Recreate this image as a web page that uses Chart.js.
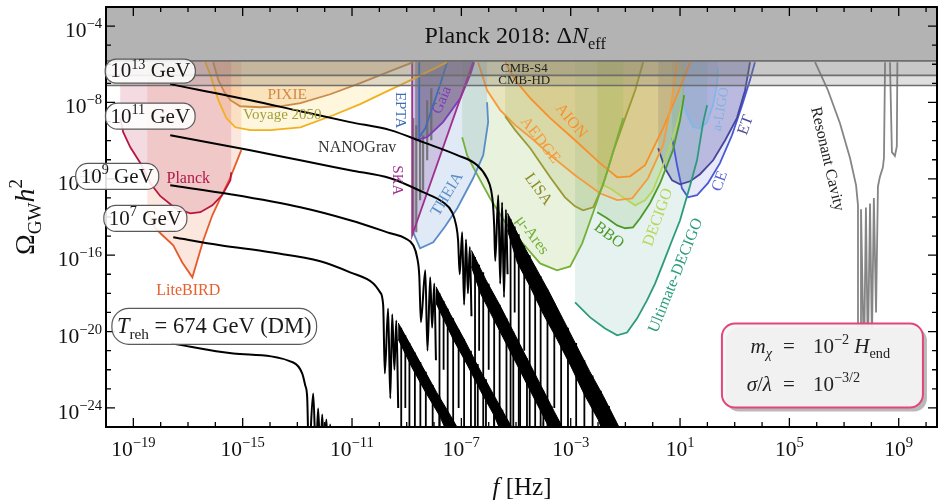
<!DOCTYPE html>
<html>
<head>
<meta charset="utf-8">
<title>Gravitational wave spectrum</title>
<script src="https://cdn.jsdelivr.net/npm/chart.js"></script>
<style>
  body { margin: 0; background: #fff; }
  #wrap { width: 942px; height: 502px; }
</style>
</head>
<body>
<div id="wrap"><canvas id="gw" width="942" height="502"></canvas></div>
<script>
// everything is in log10 units: x = log10(f/Hz), y = log10(Omega_GW h^2)
const xRange = [-20, 10.4];
const yRange = [-25, -3];
const xTickLabels = [-19, -15, -11, -7, -3, 1, 5, 9];
const yTickLabels = [-24, -20, -16, -12, -8, -4];

// cosmological bounds (horizontal lines)
const neffLevel = -5.82;
const cmbS4Level = -6.58;
const cmbHDLevel = -7.11;

// spectra for the different reheating temperatures
const t13 = [[-17.65,-7.04],[-14.72,-7.88],[-12.89,-8.46],[-11.07,-9.03],[-9.60,-9.45],[-8.40,-10.08],[-7.15,-10.76],[-6.42,-11.29],[-6.06,-11.97],[-5.91,-12.60],[-5.84,-13.39],[-5.80,-14.44],[-5.76,-16.3],
  [-5.65,-12.86],[-5.58,-17.5],[-5.51,-13.24],[-5.44,-18.2],[-5.37,-13.62],[-5.31,-17.0]];
const t11 = [[-17.65,-9.72],[-14.72,-10.50],[-12.89,-11.03],[-11.07,-11.55],[-9.60,-11.97],[-8.40,-12.70],[-7.67,-13.23],[-7.34,-13.75],[-7.19,-14.44],[-7.12,-15.22],[-7.06,-17.0],
  [-6.97,-14.80],[-6.90,-18.6],[-6.83,-15.18],[-6.76,-18.0],[-6.69,-15.57],[-6.63,-19.2]];
const t9 = [[-17.65,-12.34],[-15.45,-12.81],[-12.89,-13.49],[-11.07,-14.17],[-9.60,-14.85],[-9.05,-15.12],[-8.76,-15.48],[-8.62,-16.11],[-8.54,-17.06],[-8.48,-19.5],
  [-8.32,-16.79],[-8.24,-21.0],[-8.14,-17.16],[-8.07,-19.8],[-7.99,-17.48],[-7.93,-21.5]];
const t7 = [[-17.54,-15.06],[-15.82,-15.48],[-13.99,-15.85],[-12.16,-16.32],[-11.07,-16.90],[-10.22,-17.48],[-9.97,-17.95],[-9.86,-18.63],[-9.80,-22.2],
  [-9.68,-18.79],[-9.60,-23.5],[-9.53,-19.10],[-9.45,-22.0],[-9.38,-19.42],[-9.31,-24.0]];
const tDM = [[-17.61,-20.62],[-15.34,-21.15],[-13.15,-21.62],[-12.82,-22.20],[-12.71,-22.83],[-12.64,-23.45],[-12.58,-26.5],
  [-12.42,-23.24],[-12.32,-26.5],[-12.24,-24.03],[-12.16,-26.5],[-12.09,-24.35],[-12.02,-26.5],[-11.94,-24.61],[-11.87,-26.5],[-11.80,-24.87],[-11.74,-26.5]];

// dense oscillation bands (upper edge then lower edge)
const band13 = [[-5.31,-13.8],[-4.8,-15.3],[-4.3,-16.6],[-3.8,-17.9],[-3.3,-19.3],[-2.8,-20.7],[-2.3,-22.1],[-1.8,-23.4],[-1.2,-25.1],
  [-1.45,-26.5],[-2.0,-24.6],[-2.5,-23.3],[-3.0,-21.8],[-3.5,-20.4],[-4.0,-19.1],[-4.5,-17.6],[-4.95,-16.4],[-5.31,-14.7]];
const band11 = [[-6.63,-15.75],[-6.1,-17.3],[-5.6,-18.6],[-5.1,-20.0],[-4.6,-21.4],[-4.1,-22.8],[-3.6,-24.2],[-2.9,-26.1],
  [-3.2,-26.6],[-3.8,-25.0],[-4.3,-23.6],[-4.8,-22.2],[-5.3,-20.8],[-5.8,-19.4],[-6.3,-18.0],[-6.63,-16.6]];
const band9 = [[-7.93,-17.65],[-7.4,-19.1],[-6.9,-20.4],[-6.4,-21.8],[-5.9,-23.1],[-5.4,-24.4],[-5.0,-25.4],
  [-5.3,-26.1],[-5.8,-24.4],[-6.3,-23.1],[-6.8,-21.7],[-7.3,-20.4],[-7.93,-18.5]];
const band7 = [[-9.31,-19.55],[-8.9,-20.6],[-8.4,-21.9],[-7.9,-23.2],[-7.4,-24.4],[-7.0,-25.4],
  [-7.3,-26.0],[-7.8,-24.4],[-8.3,-23.2],[-8.8,-21.9],[-9.31,-20.4]];

// deep minima of the oscillations: [x, top, bottom]
const drops13 = [[-5.2,-14.1,-30],[-5.05,-14.5,-19],[-4.9,-14.9,-30],[-4.7,-15.5,-21],[-4.5,-16.0,-30],[-4.3,-16.6,-23],[-4.1,-17.1,-30],[-3.85,-17.8,-30],[-3.6,-18.5,-24],[-3.35,-19.2,-30],[-3.1,-19.8,-30],[-2.8,-20.6,-30],[-2.5,-21.5,-30],[-2.2,-22.3,-30],[-1.9,-23.1,-30],[-1.6,-23.9,-30]];
const drops11 = [[-6.5,-16.1,-30],[-6.35,-16.5,-21],[-6.2,-16.9,-30],[-6.0,-17.5,-22],[-5.8,-18.1,-30],[-5.6,-18.6,-30],[-5.35,-19.3,-30],[-5.1,-20.0,-30],[-4.85,-20.7,-30],[-4.6,-21.4,-30],[-4.3,-22.3,-30],[-4.0,-23.1,-30],[-3.7,-23.9,-30]];
const drops9 = [[-7.8,-18.0,-30],[-7.65,-18.4,-22],[-7.5,-18.8,-30],[-7.3,-19.3,-30],[-7.1,-19.9,-24],[-6.9,-20.4,-30],[-6.65,-21.0,-30],[-6.4,-21.7,-30],[-6.1,-22.5,-30],[-5.8,-23.3,-30],[-5.5,-24.1,-30]];
const drops7 = [[-9.2,-19.8,-30],[-9.05,-20.2,-24],[-8.9,-20.6,-30],[-8.7,-21.1,-30],[-8.5,-21.6,-30],[-8.3,-22.1,-30],[-8.05,-22.8,-30],[-7.8,-23.4,-30],[-7.5,-24.2,-30]];

// experimental sensitivity curves
const planckCMB = [[-19.48,-8.82],[-19.37,-9.56],[-19.11,-10.35],[-18.74,-11.18],[-18.38,-12.23],[-18.01,-12.91],[-17.46,-13.54],[-16.92,-13.81],[-16.55,-13.75],[-16.11,-13.39],[-15.75,-12.86],[-15.45,-12.08],[-15.42,-11.66]];
const liteBIRD = [[-18.49,-13.65],[-18.20,-14.59],[-18.01,-14.85],[-17.54,-15.48],[-17.21,-16.38],[-16.84,-17.16],[-16.44,-15.22],[-16.11,-13.91],[-15.82,-13.02],[-15.45,-11.92],[-15.20,-11.03],[-15.05,-10.50]];
const pixie = [[-16.08,-5.89],[-15.89,-6.83],[-15.67,-7.46],[-15.45,-7.88],[-15.09,-8.20],[-14.36,-8.25],[-13.63,-8.20],[-12.89,-8.04],[-11.80,-7.57],[-10.70,-6.99],[-9.60,-6.36],[-8.76,-5.89]];
const voyage = [[-16.37,-5.89],[-16.18,-6.57],[-15.89,-7.88],[-15.60,-8.82],[-15.27,-9.30],[-14.72,-9.45],[-13.99,-9.45],[-12.89,-9.30],[-11.69,-8.67],[-10.70,-8.09],[-9.86,-7.51],[-8.62,-6.67],[-7.52,-5.89]];
const epta = [[-8.54,-5.89],[-8.54,-9.82],[-8.32,-9.35],[-8.03,-8.14],[-7.78,-7.09],[-7.52,-5.89]];
const ska = [[-8.80,-5.89],[-8.80,-14.96],[-6.57,-5.89]];
const gaia = [[-8.69,-9.98],[-8.25,-9.82],[-7.67,-9.03],[-7.04,-7.78],[-6.68,-6.57],[-6.53,-5.89]];
const theia = [[-8.76,-14.80],[-8.51,-15.64],[-8.03,-15.33],[-7.59,-14.49],[-7.15,-13.54],[-6.57,-11.97],[-6.20,-10.76],[-6.02,-9.03],[-6.06,-7.99]];
const muAres = [[-6.97,-9.82],[-6.79,-10.76],[-6.57,-11.39],[-5.95,-13.02],[-5.40,-14.28],[-4.85,-15.22],[-4.12,-16.43],[-3.50,-16.79],[-3.02,-16.59],[-2.58,-15.38],[-2.11,-13.49],[-1.67,-11.66],[-1.38,-10.24],[-1.08,-8.82]];
const lisa = [[-5.40,-8.72],[-5.03,-9.45],[-4.48,-10.40],[-3.75,-11.92],[-3.21,-12.97],[-2.84,-13.44],[-2.55,-13.65],[-2.18,-13.49],[-1.82,-12.34],[-1.45,-10.61],[-1.01,-8.82],[-0.64,-7.36],[-0.35,-5.89]];
const aedge = [[-6.39,-5.89],[-6.06,-7.36],[-5.58,-8.40],[-5.03,-9.19],[-4.48,-9.82],[-3.75,-10.76],[-2.84,-11.81],[-1.93,-12.76],[-1.30,-13.12],[-0.75,-13.02],[-0.17,-11.97],[0.38,-10.24],[0.67,-8.14],[0.89,-5.89]];
const aion = [[-5.40,-5.89],[-5.03,-6.83],[-4.48,-7.78],[-3.75,-8.82],[-2.84,-9.98],[-1.93,-11.18],[-1.30,-11.92],[-0.83,-11.87],[-0.28,-11.29],[0.38,-9.35],[0.89,-7.62],[1.37,-5.89]];
const bbo = [[-2.03,-13.75],[-1.67,-14.07],[-1.30,-14.44],[-1.01,-14.59],[-0.72,-14.54],[-0.46,-14.07],[-0.10,-13.28],[0.27,-12.23],[0.74,-10.50],[1.00,-8.93],[1.15,-7.62]];
const decigo = [[-2.03,-12.18],[-1.56,-12.50],[-1.19,-12.86],[-0.64,-13.39],[-0.28,-13.12],[0.01,-12.60],[0.38,-11.29],[0.71,-9.98],[1.00,-8.56],[1.15,-7.62]];
const uDecigo = [[-2.84,-18.47],[-2.29,-19.26],[-1.74,-19.84],[-1.30,-20.20],[-0.94,-20.05],[-0.57,-19.31],[-0.21,-18.37],[0.09,-17.48],[0.38,-16.43],[0.71,-15.22],[1.00,-14.17],[1.37,-12.34],[1.62,-11.03],[1.84,-9.09],[1.99,-8.14]];
const et = [[0.20,-10.40],[0.45,-11.45],[0.71,-12.08],[1.00,-12.29],[1.37,-12.13],[1.73,-11.76],[2.21,-11.03],[2.65,-9.98],[3.08,-8.82],[3.38,-7.36],[3.56,-5.89]];
const ce = [[0.71,-9.87],[0.89,-11.29],[1.07,-12.50],[1.29,-12.97],[1.62,-12.86],[2.02,-12.23],[2.46,-11.18],[2.90,-9.72],[3.27,-8.14],[3.56,-6.83],[3.74,-5.89]];
const aLigo = [[1.07,-7.88],[1.26,-8.67],[1.48,-9.30],[1.73,-9.35],[1.99,-9.03],[2.21,-8.14],[2.35,-7.09],[2.39,-6.20]];
const cavity = [[5.94,-5.89],[6.41,-7.36],[6.85,-9.09],[7.22,-10.92],[7.44,-12.34],[7.51,-13.39],[7.51,-21.9],[7.62,-21.9],[7.62,-13.6],[7.73,-21.7],[7.80,-13.5],[7.87,-21.4],[7.95,-13.3],[8.02,-20.5],[8.09,-13.0],[8.17,-19.0],[8.24,-12.4],[8.31,-11.9],[8.42,-11.4],[8.46,-10.9],[8.50,-5.89],
  null,[8.68,-5.89],[8.75,-10.6],[8.86,-10.8],[8.93,-10.3],[8.95,-5.89]];
// NANOGrav posterior bars: [x, top, bottom]
const nanograv = [[-8.76,-8.82,-14.96],[-8.65,-9.19,-14.80],[-8.51,-9.98,-13.12],[-8.40,-9.72,-12.60],[-8.25,-7.88,-11.03],[-8.10,-7.25,-9.98]];

const SERIF = '"Liberation Serif", "Times New Roman", serif';
const TOP = yRange[1];

const pts = arr => arr.map(p => p ? {x: p[0], y: p[1]} : {x: null, y: null});
const bars = arr => arr.flatMap(([x, a, b]) => [{x, y: a}, {x, y: b}, {x: null, y: null}]);

const datasets = [];
function addLine(data, colour, width, order, extra) {
  datasets.push(Object.assign({data, borderColor: colour, borderWidth: width, fill: false, order,
    pointRadius: 0, tension: 0}, extra || {}));
}
function addShape(data, colour, order, border) {
  datasets.push({data, backgroundColor: colour, borderColor: border || 'rgba(0,0,0,0)',
    borderWidth: border ? 1 : 0, fill: 'shape', order, pointRadius: 0, tension: 0});
}
function addRegion(curve, line, fillCol) {
  const last = curve[curve.length - 1];
  addShape(pts([[curve[0][0], TOP], ...curve, [last[0], TOP]]), fillCol, 90);
  addLine(pts(curve), line, 1.8, 60);
}

// black spectra on top
[t13, t11, t9, t7, tDM].forEach(c => addLine(pts(c), '#000', 2, 5, {cubicInterpolationMode: 'monotone'}));
[band13, band11, band9, band7].forEach(b => addShape(pts(b), '#000', 6, '#000'));
[drops13, drops11, drops9, drops7].forEach(d => addLine(bars(d), '#000', 1.8, 6));

// Planck Delta N_eff (opaque) and CMB-S4 / CMB-HD projections
addLine(pts([[xRange[0] - 1, neffLevel], [xRange[1] + 1, neffLevel]]), '#6e6e6e', 1.6, 20, {fill: 'end', backgroundColor: '#b3b3b3'});
addLine(pts([[xRange[0] - 1, cmbS4Level], [xRange[1] + 1, cmbS4Level]]), '#6e6e6e', 1.6, 30, {fill: 'end', backgroundColor: 'rgba(120,120,120,0.22)'});
addLine(pts([[xRange[0] - 1, cmbHDLevel], [xRange[1] + 1, cmbHDLevel]]), '#6e6e6e', 1.6, 30, {fill: 'end', backgroundColor: 'rgba(120,120,120,0.24)'});

addLine(pts(cavity), '#858585', 1.8, 60);
addLine(bars(nanograv), 'rgba(105,105,105,0.85)', 2.2, 70);

addRegion(planckCMB, '#b8163f', 'rgba(205,90,120,0.22)');
addRegion(liteBIRD, '#e85a2a', 'rgba(240,120,80,0.18)');
addRegion(voyage, '#f2b01e', 'rgba(250,215,100,0.22)');
addRegion(pixie, '#c98a4a', 'rgba(235,160,80,0.26)');
addRegion(ska, '#a0308f', 'rgba(150,100,180,0.28)');
addRegion(epta, '#3e6db5', 'rgba(60,100,170,0.08)');
addRegion(gaia, '#7d3cb8', 'rgba(50,45,60,0.45)');
addRegion(theia, '#5a8dc8', 'rgba(100,150,210,0.2)');
addRegion(muAres, '#74b13b', 'rgba(140,190,80,0.2)');
addRegion(lisa, '#9a9a33', 'rgba(160,160,60,0.18)');
addRegion(aedge, '#f59b3d', 'rgba(250,170,70,0.2)');
addRegion(aion, '#f8902a', 'rgba(250,160,60,0.2)');
addRegion(bbo, '#4c9a2a', 'rgba(90,160,60,0.14)');
addRegion(decigo, '#b6d65a', 'rgba(180,215,90,0.18)');
addRegion(uDecigo, '#2b9b7c', 'rgba(80,170,150,0.15)');
addRegion(et, '#45459c', 'rgba(80,80,170,0.3)');
addRegion(ce, '#4858d6', 'rgba(90,100,210,0.14)');
addRegion(aLigo, '#80b8e8', 'rgba(120,170,230,0.15)');

// plain labels: text, x, y, angle (deg), colour, size
const notes = [
  ['PIXIE', -13.37, -7.62, 0, '#d08a45', 15.5],
  ['Voyage 2050', -13.55, -8.67, 0, '#a3a03a', 15],
  ['NANOGrav', -10.81, -10.35, 0, '#333', 16],
  ['Planck', -16.99, -12.02, 0, '#b0174a', 16],
  ['LiteBIRD', -16.99, -17.84, 0, '#e8602c', 16],
  ['EPTA', -9.24, -8.40, 90, '#3e6db5', 15],
  ['SKA', -9.35, -12.08, 90, '#a0308f', 15],
  ['Gaia', -7.70, -7.88, -68, '#7d3cb8', 15],
  ['THEIA', -7.52, -12.81, -59, '#5a8dc8', 16],
  ['\u03bc-Ares', -4.41, -14.96, 53, '#74b13b', 16],
  ['LISA', -4.19, -12.55, 54, '#8c8c2a', 16],
  ['AEDGE', -4.12, -9.98, 52, '#f59b3d', 16],
  ['AION', -2.99, -8.98, 50, '#f8902a', 16],
  ['BBO', -1.60, -14.96, 37, '#4c9a2a', 16],
  ['DECIGO', 0.20, -14.02, -70, '#b6d65a', 16],
  ['Ultimate-DECIGO', 0.85, -17.06, -68, '#2b9b7c', 16],
  ['CE', 2.46, -12.13, -70, '#5a63d4', 16],
  ['ET', 3.41, -9.19, -70, '#4a4a9e', 16],
  ['a-LIGO', 2.50, -8.35, -80, '#80b2e0', 14],
  ['Resonant Cavity', 6.38, -10.97, 77, '#222', 16],
  ['CMB-S4', -4.70, -6.20, 0, '#222', 13],
  ['CMB-HD', -4.70, -6.86, 0, '#222', 13]
];

// rich text helpers: parts are {t, i (italic), v (1 sup, -1 sub)}
const N = t => ({t}), I = t => ({t, i: true}), SUP = t => ({t, v: 1}), SUB = t => ({t, v: -1}), SUBI = t => ({t, v: -1, i: true});
function font(size, italic) { return (italic ? 'italic ' : '') + size + 'px ' + SERIF; }
function rich(ctx, parts, size, x, y, align, colour) {
  let w = 0;
  const items = parts.map(p => {
    const s = p.v ? size * 0.68 : size;
    ctx.font = font(s, p.i);
    const it = {t: p.t, f: ctx.font, x: w, dy: p.v === 1 ? -size * 0.42 : p.v === -1 ? size * 0.24 : 0};
    w += ctx.measureText(p.t).width;
    return it;
  });
  const x0 = align === 'center' ? x - w / 2 : align === 'right' ? x - w : x;
  ctx.fillStyle = colour;
  ctx.textAlign = 'left';
  ctx.textBaseline = 'alphabetic';
  items.forEach(it => { ctx.font = it.f; ctx.fillText(it.t, x0 + it.x, y + it.dy); });
  return w;
}
function richWidth(ctx, parts, size) {
  return parts.reduce((w, p) => { ctx.font = font(p.v ? size * 0.68 : size, p.i); return w + ctx.measureText(p.t).width; }, 0);
}
function roundBox(ctx, x, y, w, h, r) {
  ctx.beginPath();
  ctx.moveTo(x + r, y);
  ctx.lineTo(x + w - r, y); ctx.arcTo(x + w, y, x + w, y + r, r);
  ctx.lineTo(x + w, y + h - r); ctx.arcTo(x + w, y + h, x + w - r, y + h, r);
  ctx.lineTo(x + r, y + h); ctx.arcTo(x, y + h, x, y + h - r, r);
  ctx.lineTo(x, y + r); ctx.arcTo(x, y, x + r, y, r);
  ctx.closePath();
}

// temperature tags: parts, x, y, size, height
const tags = [
  [[N('10'), SUP('13'), N(' GeV')], -18.38, -6.36, 21, 24],
  [[N('10'), SUP('11'), N(' GeV')], -18.38, -8.72, 21, 26],
  [[N('10'), SUP('9'), N(' GeV')], -19.59, -11.87, 21, 26],
  [[N('10'), SUP('7'), N(' GeV')], -18.56, -14.07, 21, 26],
  [[I('T'), SUB('reh'), N(' = 674 GeV (DM)')], -16.04, -19.73, 22.5, 36]
];
const paramPos = [6.19, -21.78];
const neffLabelPos = [-5.03, -4.47];

const decor = {
  id: 'decor',
  beforeDraw(chart) {
    const ctx = chart.ctx;
    ctx.save(); ctx.fillStyle = '#fff'; ctx.fillRect(0, 0, chart.width, chart.height); ctx.restore();
  },
  afterDatasetsDraw(chart) {
    const ctx = chart.ctx, xs = chart.scales.x, ys = chart.scales.y, a = chart.chartArea;
    const px = v => xs.getPixelForValue(v), py = v => ys.getPixelForValue(v);
    ctx.save();

    notes.forEach(([t, lx, ly, ang, col, size]) => {
      ctx.save();
      ctx.translate(px(lx), py(ly));
      ctx.rotate(ang * Math.PI / 180);
      ctx.font = font(size);
      ctx.fillStyle = col;
      ctx.textAlign = 'center';
      ctx.textBaseline = 'middle';
      ctx.fillText(t, 0, 0);
      ctx.restore();
    });

    rich(ctx, [N('Planck 2018: \u0394'), I('N'), SUB('eff')], 24, px(neffLabelPos[0]), py(neffLabelPos[1]) + 8, 'center', '#111');

    // frame and inward ticks
    ctx.strokeStyle = '#000';
    ctx.lineWidth = 1.3;
    ctx.beginPath();
    for (let v = Math.ceil(xRange[0]); v <= xRange[1]; v++) {
      const x = px(v), len = xTickLabels.includes(v) ? 9 : 5;
      ctx.moveTo(x, a.bottom); ctx.lineTo(x, a.bottom - len);
      ctx.moveTo(x, a.top); ctx.lineTo(x, a.top + len);
    }
    for (let v = yRange[0]; v <= yRange[1]; v++) {
      const y = py(v), len = yTickLabels.includes(v) ? 9 : 5;
      ctx.moveTo(a.left, y); ctx.lineTo(a.left + len, y);
      ctx.moveTo(a.right, y); ctx.lineTo(a.right - len, y);
    }
    ctx.stroke();
    ctx.lineWidth = 2;
    ctx.strokeRect(a.left, a.top, a.right - a.left, a.bottom - a.top);

    xTickLabels.forEach(v => rich(ctx, [N('10'), SUP((v < 0 ? '\u2212' : '') + Math.abs(v))], 21.5, px(v), a.bottom + 29, 'center', '#111'));
    yTickLabels.forEach(v => rich(ctx, [N('10'), SUP('\u2212' + Math.abs(v))], 21.5, a.left - 4, py(v) + 11, 'right', '#111'));

    // axis titles
    rich(ctx, [I('f'), N(' [Hz]')], 25, 522, 495, 'center', '#111');
    ctx.save();
    ctx.translate(34, 217);
    ctx.rotate(-Math.PI / 2);
    rich(ctx, [N('\u03a9'), SUB('GW'), I('h'), SUP('2')], 28, 0, 0, 'center', '#111');
    ctx.restore();

    // temperature tags
    tags.forEach(([parts, lx, ly, size, h]) => {
      const w = richWidth(ctx, parts, size) + 10;
      const cx = px(lx), cy = py(ly);
      roundBox(ctx, cx - w / 2, cy - h / 2, w, h, h / 2 - 1);
      ctx.fillStyle = 'rgba(255,255,255,0.88)';
      ctx.fill();
      ctx.lineWidth = 1.2;
      ctx.strokeStyle = '#5a5a5a';
      ctx.stroke();
      rich(ctx, parts, size, cx, cy + size * 0.3, 'center', '#1a1a1a');
    });

    // parameter box
    const bx = px(paramPos[0]), by = py(paramPos[1]);
    roundBox(ctx, bx - 100 + 4, by - 42 + 4, 201, 84, 13);
    ctx.fillStyle = '#b9b9b9';
    ctx.fill();
    roundBox(ctx, bx - 100, by - 42, 201, 84, 13);
    ctx.fillStyle = 'rgba(245,245,245,0.93)';
    ctx.fill();
    ctx.lineWidth = 2;
    ctx.strokeStyle = '#e2467c';
    ctx.stroke();
    rich(ctx, [I('m'), SUBI('\u03c7')], 21, bx - 50, by - 13, 'right', '#222');
    rich(ctx, [I('\u03c3'), N('/'), I('\u03bb')], 21, bx - 50, by + 25, 'right', '#222');
    rich(ctx, [N('=')], 21, bx - 33, by - 13, 'center', '#222');
    rich(ctx, [N('=')], 21, bx - 33, by + 25, 'center', '#222');
    rich(ctx, [N('10'), SUP('\u22122'), N(' '), I('H'), SUB('end')], 21, bx - 9, by - 13, 'left', '#222');
    rich(ctx, [N('10'), SUP('\u22123/2')], 21, bx - 9, by + 25, 'left', '#222');

    ctx.restore();
  }
};

new Chart(document.getElementById('gw').getContext('2d'), {
  type: 'line',
  data: {datasets},
  options: {
    responsive: false,
    animation: false,
    spanGaps: false,
    layout: {padding: {left: 106, top: 7, right: 5, bottom: 75}},
    scales: {
      x: {type: 'linear', min: xRange[0], max: xRange[1], display: false},
      y: {type: 'linear', min: yRange[0], max: yRange[1], display: false}
    },
    plugins: {legend: {display: false}, tooltip: {enabled: false}}
  },
  plugins: [decor]
});
</script>
</body>
</html>
